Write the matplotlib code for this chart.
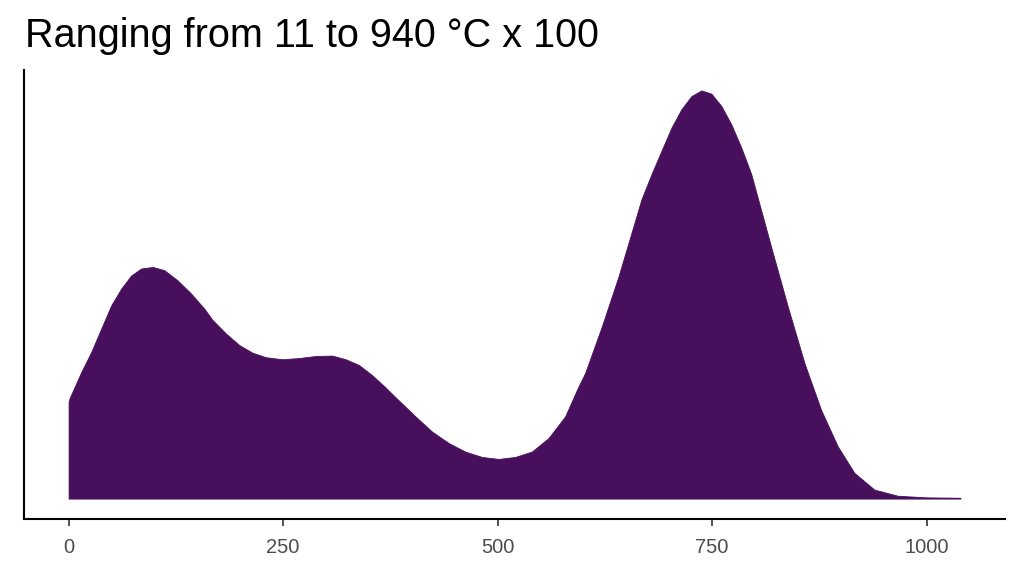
import matplotlib.pyplot as plt

# temperature (x100 deg C scaled axis) and relative density height
temp = [0, 1.2, 14.8, 26.4, 38.0, 49.7, 61.3, 72.9, 84.5, 98.0, 111.6, 127.1,
        142.7, 158.1, 167.8, 183.4, 198.8, 214.3, 229.9, 249.2, 268.6, 288.0,
        307.3, 322.9, 338.4, 353.8, 369.4, 381.0, 404.3, 423.6, 443.0, 462.4,
        481.7, 501.2, 520.6, 539.9, 559.3, 578.7, 594.2, 602.0, 621.3, 640.7,
        667.8, 679.4, 691.0, 702.7, 714.3, 725.9, 737.6, 749.2, 760.8, 772.4,
        784.1, 795.7, 819.0, 838.4, 857.8, 877.1, 896.5, 915.9, 939.2, 966.3,
        1000.0, 1039.5]
density = [0.237, 0.246, 0.310, 0.359, 0.416, 0.473, 0.514, 0.546, 0.563, 0.567,
           0.559, 0.534, 0.502, 0.465, 0.437, 0.404, 0.376, 0.357, 0.346, 0.341,
           0.344, 0.349, 0.350, 0.341, 0.327, 0.302, 0.272, 0.248, 0.201, 0.164,
           0.136, 0.115, 0.102, 0.097, 0.102, 0.115, 0.148, 0.201, 0.274, 0.307,
           0.420, 0.542, 0.733, 0.794, 0.851, 0.908, 0.953, 0.985, 0.999, 0.991,
           0.961, 0.916, 0.859, 0.794, 0.615, 0.469, 0.331, 0.217, 0.128, 0.063,
           0.022, 0.007, 0.003, 0.002]
x_ticks = [0, 250, 500, 750, 1000]
title = 'Ranging from 11 to 940 °C x 100'

plt.rcParams['font.family'] = ['Liberation Sans', 'DejaVu Sans']

fig = plt.figure(figsize=(10.24, 5.76), dpi=100)
ax = fig.add_axes([24 / 1024, 1 - 519 / 576, (1005 - 24) / 1024, (519 - 70) / 576])

fill_color = '#480F5C'
ax.fill_between(temp, 0, density, facecolor=fill_color, edgecolor=fill_color,
                linewidth=0.6)

span = temp[-1] - temp[0]
ax.set_xlim(temp[0] - 0.05 * span, temp[-1] + 0.05 * span)
top = max(density)
ax.set_ylim(-0.05 * top, top * 1.05)

ax.set_xticks(x_ticks)
ax.set_xticklabels([str(t) for t in x_ticks])
ax.set_yticks([])
ax.tick_params(axis='x', length=5, width=1.2, color='#333333',
               labelcolor='#4D4D4D', labelsize=14.5, pad=9)
for side in ['top', 'right']:
    ax.spines[side].set_visible(False)
for side in ['left', 'bottom']:
    ax.spines[side].set_linewidth(1.5)
    ax.spines[side].set_color('black')

fig.text(25 / 1024, 1 - 47 / 576, title, fontsize=28.5, color='black',
         ha='left', va='baseline')

fig.savefig('out.png', dpi=100)
